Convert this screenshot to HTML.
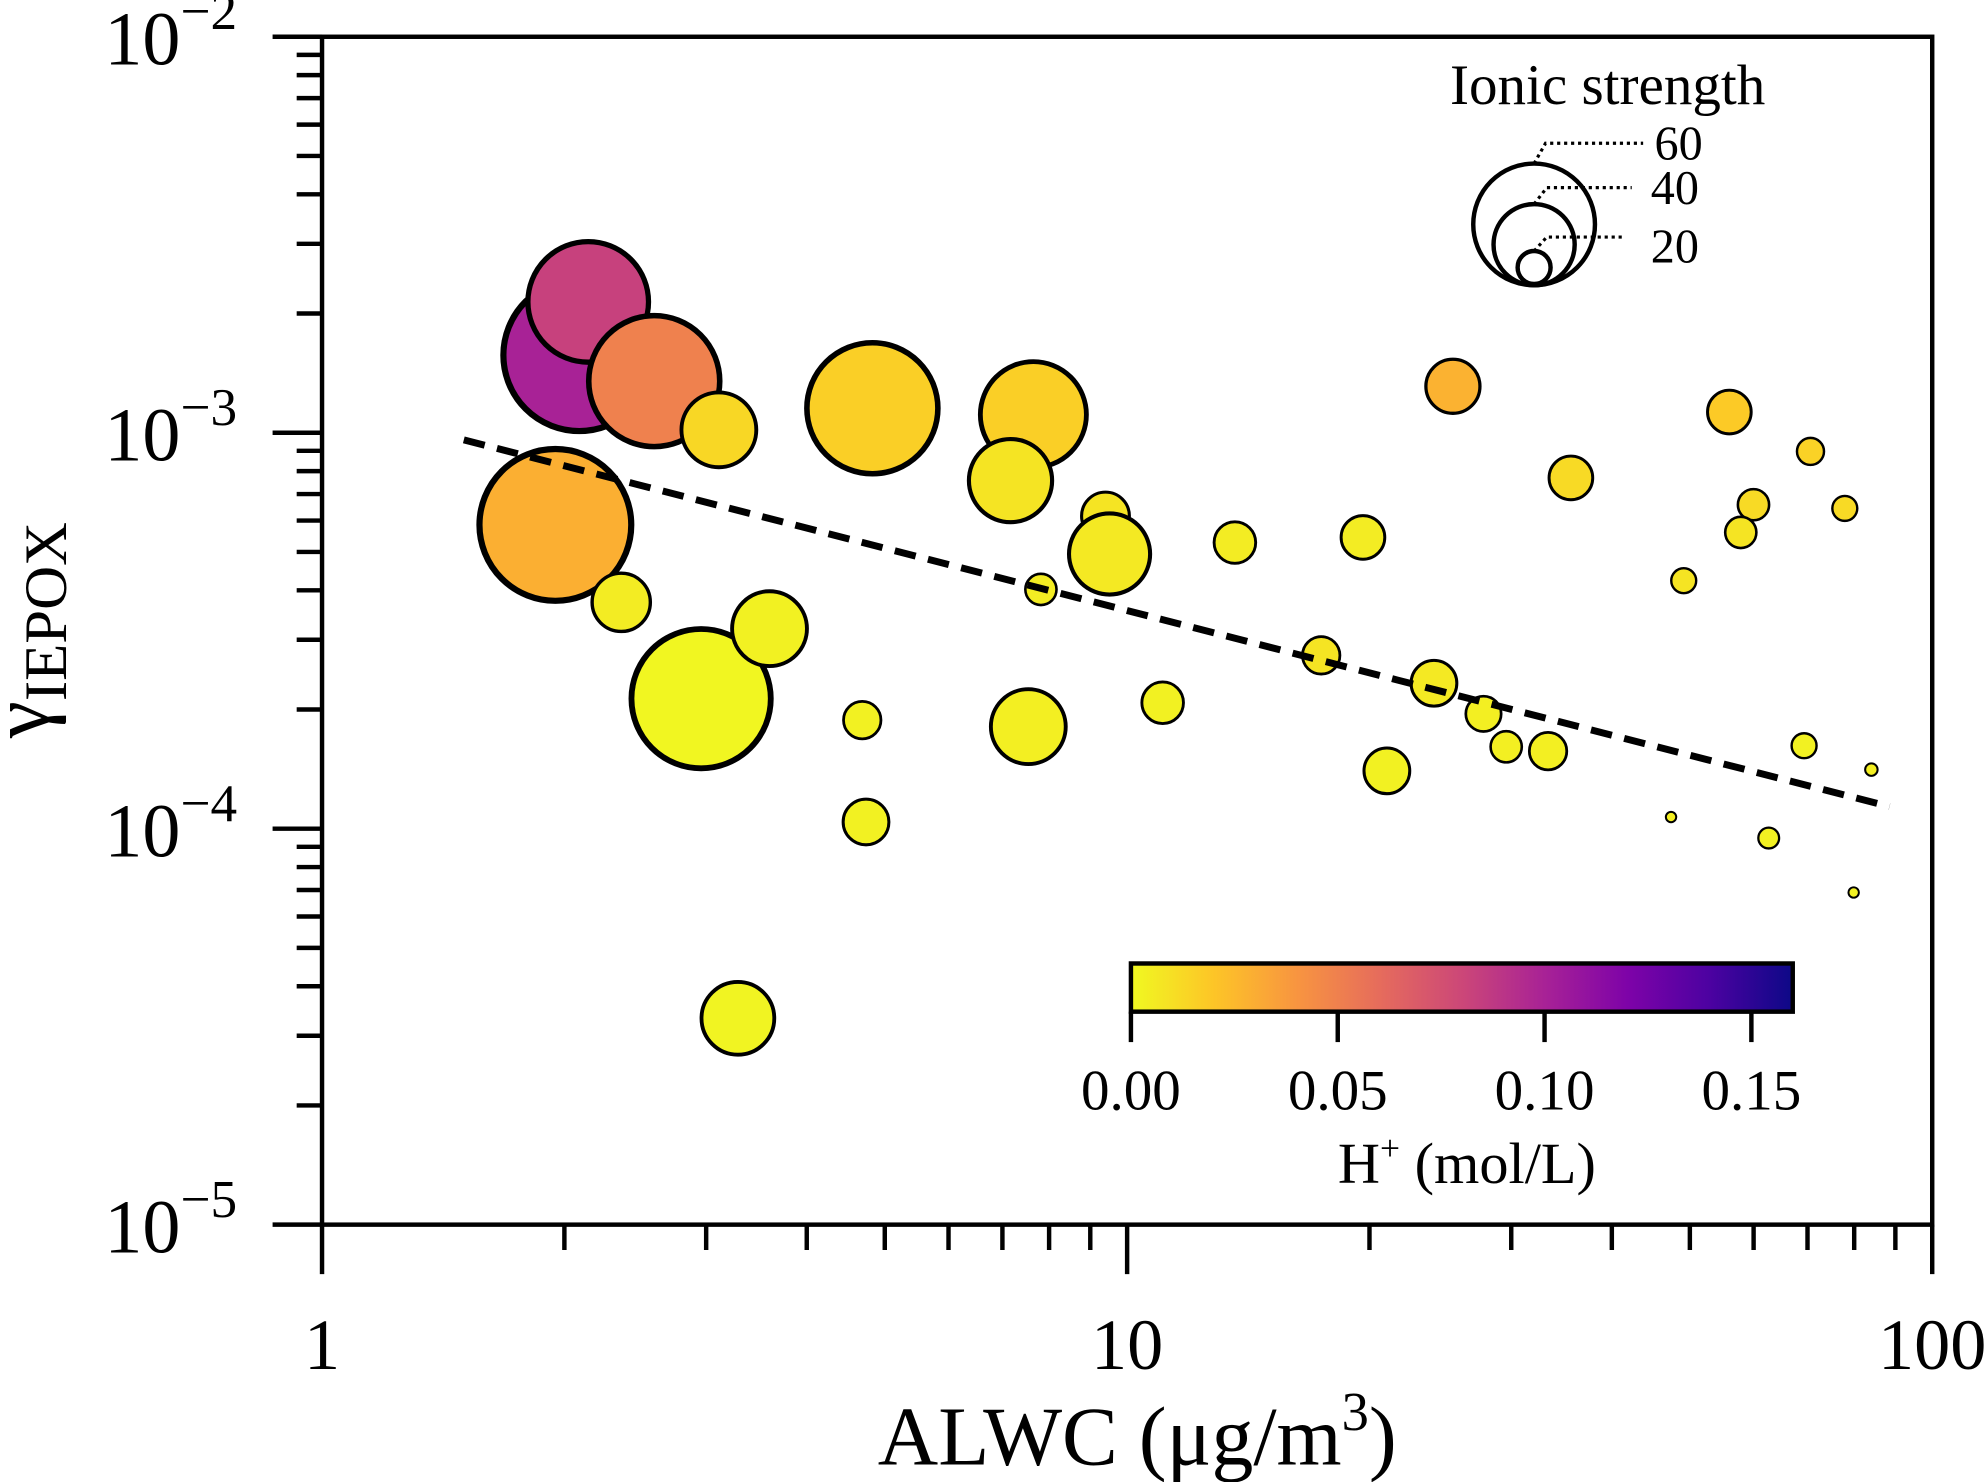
<!DOCTYPE html>
<html><head><meta charset="utf-8"><style>
html,body{margin:0;padding:0;background:#fff}
svg{display:block}
text{font-family:"Liberation Serif",serif;fill:#000}
</style></head><body>
<svg id="chart" width="1988" height="1482" viewBox="0 0 1568 1169" preserveAspectRatio="none" xmlns="http://www.w3.org/2000/svg">
<defs>
<linearGradient id="cbgrad" x1="0" x2="1" y1="0" y2="0">
<stop offset="0" stop-color="#f0f921"/><stop offset="0.125" stop-color="#fdc527"/>
<stop offset="0.25" stop-color="#f89540"/><stop offset="0.375" stop-color="#e66c5c"/>
<stop offset="0.5" stop-color="#cc4778"/><stop offset="0.625" stop-color="#a82296"/>
<stop offset="0.75" stop-color="#7e03a8"/><stop offset="0.875" stop-color="#4c02a1"/>
<stop offset="1" stop-color="#0d0887"/>
</linearGradient>
</defs>
<g id="points"></g>
<g id="fit"></g>
<g id="axes"></g>
<g>
<text x="1268" y="82" font-size="45" text-anchor="middle">Ionic strength</text>
<circle cx="1210" cy="177" r="48" fill="none" stroke="#000" stroke-width="3.5"/>
<circle cx="1210" cy="193" r="32" fill="none" stroke="#000" stroke-width="3.5"/>
<circle cx="1210" cy="211" r="13" fill="none" stroke="#000" stroke-width="3.5"/>
<polyline points="1210,129 1219,113 1296,113" fill="none" stroke="#000" stroke-width="2.5" stroke-dasharray="2.5,3"/>
<polyline points="1210,161 1220,148 1287,148" fill="none" stroke="#000" stroke-width="2.5" stroke-dasharray="2.5,3"/>
<polyline points="1210,198 1220,187 1282,187" fill="none" stroke="#000" stroke-width="2.5" stroke-dasharray="2.5,3"/>
<text x="1305" y="126" font-size="38">60</text>
<text x="1302" y="161" font-size="38">40</text>
<text x="1302" y="207" font-size="38">20</text>
</g>
<g id="cbar">
<rect x="892" y="760" width="522" height="38" fill="url(#cbgrad)" stroke="#000" stroke-width="3.5"/>
<text x="1157" y="933" font-size="46" text-anchor="middle">H<tspan dy="-18" font-size="28">+</tspan><tspan dy="18"> (mol/L)</tspan></text>
</g>
</svg>
<script>
const alwc=[2.087,2.141,2.586,3.111,1.949,2.353,2.957,3.596,4.826,7.648,7.164,4.688,4.739,3.285,7.538,7.815,9.40,9.51,11.07,13.61,19.63,17.42,21.02,24.05,25.39,27.71,29.57,33.33,35.58,55.98,49.13,59.98,57.84,70.60,77.88,69.32,62.65,84.03,47.38,79.88];
const gamma=[1.57e-3,2.14e-3,1.35e-3,1.017e-3,5.85e-4,3.73e-4,2.13e-4,3.20e-4,1.153e-3,1.111e-3,7.57e-4,1.88e-4,1.04e-4,3.32e-5,1.81e-4,4.02e-4,6.16e-4,4.94e-4,2.08e-4,5.28e-4,5.44e-4,2.74e-4,1.40e-4,2.33e-4,1.31e-3,1.95e-4,1.61e-4,1.57e-4,7.69e-4,1.128e-3,4.23e-4,6.58e-4,5.60e-4,8.97e-4,6.44e-4,1.62e-4,9.47e-5,1.41e-4,1.07e-4,6.90e-5];
const ionic=[73,58,63,36,73,28,67,36,63,51,40,18,22,35,36,15,23,39,20,20,21,18,22,22,26,17,15,18,21,21,12,15,15,13,12,12,10,6,5,5];
const hplus=[0.100,0.083,0.050,0.013,0.029,0.005,0.001,0.003,0.016,0.016,0.008,0.003,0.003,0.002,0.004,0.005,0.008,0.006,0.003,0.005,0.005,0.008,0.003,0.006,0.028,0.004,0.004,0.004,0.012,0.018,0.008,0.012,0.008,0.015,0.012,0.003,0.003,0.004,0.004,0.003];
const fitIntercept=-2.926, fitSlope=-0.523, fitRange=[1.5,88.5];
const yTickLabels=["−2","−3","−4","−5"];
const xTickLabels=["1","10","100"];
const cbTicks=[0,0.05,0.10,0.15];
const cbTickLabels=["0.00","0.05","0.10","0.15"];

const NS="http://www.w3.org/2000/svg";
const L=254,R=1524,T=29,B=966;
const xs=v=>L+(Math.log10(v)-0)/2*(R-L);
const ys=v=>T+(-2-Math.log10(v))/3*(B-T);
const rs=s=>s*0.82;
const cbx=v=>892+v/0.16*522;
const stops=[[0,"#f0f921"],[0.125,"#fdc527"],[0.25,"#f89540"],[0.375,"#e66c5c"],[0.5,"#cc4778"],[0.625,"#a82296"],[0.75,"#7e03a8"],[0.875,"#4c02a1"],[1,"#0d0887"]];
function hex(h){return [1,3,5].map(i=>parseInt(h.substr(i,2),16));}
function cmap(v){let t=Math.max(0,Math.min(1,v/0.16));for(let i=0;i<stops.length-1;i++){if(t<=stops[i+1][0]){const a=hex(stops[i][1]),b=hex(stops[i+1][1]);const f=(t-stops[i][0])/(stops[i+1][0]-stops[i][0]);return "rgb("+a.map((c,k)=>Math.round(c+(b[k]-c)*f)).join(",")+")";}}return stops[8][1];}
function mk(tag,attrs,parent){const e=document.createElementNS(NS,tag);for(const k in attrs)e.setAttribute(k,attrs[k]);parent.appendChild(e);return e;}

const pg=document.getElementById('points');
alwc.forEach((x,i)=>{const r=rs(ionic[i]);
const c=mk('circle',{cx:xs(x),cy:ys(gamma[i]),r:r,fill:cmap(hplus[i]),stroke:'#000','stroke-width':(1.3+r*0.06).toFixed(2)},pg);

});

const fg=document.getElementById('fit');
const fl=mk('line',{x1:xs(fitRange[0]),y1:ys(Math.pow(10,fitIntercept+fitSlope*Math.log10(fitRange[0]))),x2:xs(fitRange[1]),y2:ys(Math.pow(10,fitIntercept+fitSlope*Math.log10(fitRange[1]))),stroke:'#000','stroke-width':5.5,'stroke-dasharray':'17,10'},fg);



const ag=document.getElementById('axes');
const frame=mk('rect',{x:L,y:T,width:R-L,height:B-T,fill:'none',stroke:'#000','stroke-width':3.5},ag);


for(let d=0;d<3;d++){for(let m=1;m<=9;m++){const v=m*Math.pow(10,-5+d);const y=ys(v);
mk('line',{x1:L-(m==1?39:20),x2:L,y1:y,y2:y,stroke:'#000','stroke-width':3.5},ag);}}
mk('line',{x1:L-39,x2:L,y1:T,y2:T,stroke:'#000','stroke-width':3.5},ag);
yTickLabels.forEach((lab,i)=>{const y=ys(Math.pow(10,-2-i));
const t=mk('text',{x:L-67,y:y+22,'font-size':60,'text-anchor':'end'},ag);


t.innerHTML='10<tspan dy="-28" font-size="42">'+lab+'</tspan>';});
for(let d=0;d<2;d++){for(let m=1;m<=9;m++){const x=xs(m*Math.pow(10,d));
mk('line',{x1:x,x2:x,y1:B,y2:B+(m==1?39:20),stroke:'#000','stroke-width':3.5},ag);}}
mk('line',{x1:R,x2:R,y1:B,y2:B+39,stroke:'#000','stroke-width':3.5},ag);
xTickLabels.forEach((lab,i)=>{const t=mk('text',{x:xs(Math.pow(10,i)),y:1080,'font-size':57,'text-anchor':'middle'},ag);


t.textContent=lab;});
const xt=mk('text',{x:897,y:1155,'font-size':66,'text-anchor':'middle'},ag);


xt.innerHTML='ALWC (μg/m<tspan dy="-27" font-size="43">3</tspan><tspan dy="27">)</tspan>';
const yt=mk('text',{x:0,y:0,'font-size':66,'text-anchor':'middle',transform:'translate(38,497) rotate(-90)'},ag);


yt.innerHTML='γ<tspan dy="14" font-size="48">IEPOX</tspan>';

const cg=document.getElementById('cbar');
cbTicks.forEach((v,i)=>{const x=cbx(v);
mk('line',{x1:x,x2:x,y1:798,y2:822,stroke:'#000','stroke-width':3.5},cg);
const t=mk('text',{x:x,y:875,'font-size':45,'text-anchor':'middle'},cg);


t.textContent=cbTickLabels[i];});
</script>
</body></html>
